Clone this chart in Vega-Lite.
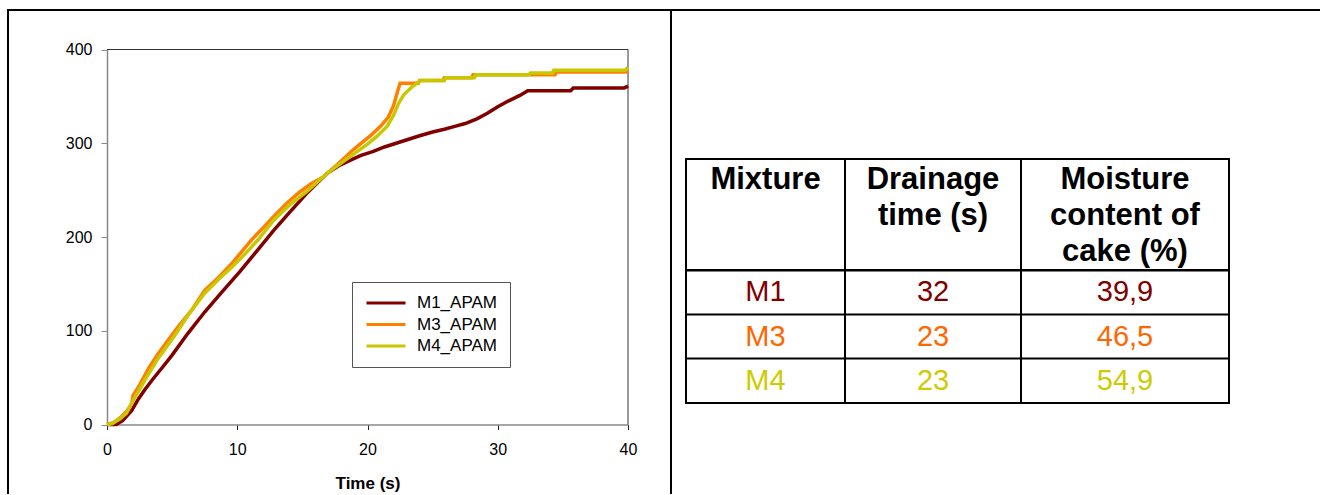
{
  "$schema": "https://vega.github.io/schema/vega-lite/v6.json",
  "background": "white",
  "padding": {"left": 7, "top": 9, "right": 0, "bottom": 0},
  "config": {
    "font": "Liberation Sans",
    "view": {"stroke": null},
    "concat": {"spacing": 0}
  },
  "datasets": {
    "curves": [
      {"series": "M1_APAM", "t": 0, "v": 0}, {"series": "M1_APAM", "t": 0.7, "v": 0}, {"series": "M1_APAM", "t": 1.2, "v": 4}, {"series": "M1_APAM", "t": 1.9, "v": 15}, {"series": "M1_APAM", "t": 2.4, "v": 27}, {"series": "M1_APAM", "t": 2.9, "v": 37}, {"series": "M1_APAM", "t": 3.5, "v": 48}, {"series": "M1_APAM", "t": 4.2, "v": 60}, {"series": "M1_APAM", "t": 5.0, "v": 74}, {"series": "M1_APAM", "t": 6.2, "v": 97}, {"series": "M1_APAM", "t": 7.5, "v": 120}, {"series": "M1_APAM", "t": 8.8, "v": 141}, {"series": "M1_APAM", "t": 10.2, "v": 163}, {"series": "M1_APAM", "t": 11.5, "v": 185}, {"series": "M1_APAM", "t": 12.8, "v": 207}, {"series": "M1_APAM", "t": 14.0, "v": 226}, {"series": "M1_APAM", "t": 15.3, "v": 246}, {"series": "M1_APAM", "t": 16.1, "v": 257}, {"series": "M1_APAM", "t": 16.9, "v": 268}, {"series": "M1_APAM", "t": 17.8, "v": 276}, {"series": "M1_APAM", "t": 18.7, "v": 282}, {"series": "M1_APAM", "t": 19.5, "v": 287}, {"series": "M1_APAM", "t": 20.4, "v": 291}, {"series": "M1_APAM", "t": 21.3, "v": 296}, {"series": "M1_APAM", "t": 22.2, "v": 300}, {"series": "M1_APAM", "t": 23.1, "v": 304}, {"series": "M1_APAM", "t": 24.0, "v": 308}, {"series": "M1_APAM", "t": 25.0, "v": 312}, {"series": "M1_APAM", "t": 25.9, "v": 315}, {"series": "M1_APAM", "t": 26.7, "v": 318}, {"series": "M1_APAM", "t": 27.5, "v": 321}, {"series": "M1_APAM", "t": 28.4, "v": 326}, {"series": "M1_APAM", "t": 29.2, "v": 332}, {"series": "M1_APAM", "t": 30.0, "v": 339}, {"series": "M1_APAM", "t": 30.8, "v": 345}, {"series": "M1_APAM", "t": 31.7, "v": 351}, {"series": "M1_APAM", "t": 32.3, "v": 356}, {"series": "M1_APAM", "t": 35.6, "v": 356}, {"series": "M1_APAM", "t": 35.8, "v": 359}, {"series": "M1_APAM", "t": 39.7, "v": 359}, {"series": "M1_APAM", "t": 40, "v": 361},
      {"series": "M3_APAM", "t": 0, "v": 0}, {"series": "M3_APAM", "t": 0.5, "v": 2}, {"series": "M3_APAM", "t": 1.0, "v": 7}, {"series": "M3_APAM", "t": 1.5, "v": 14}, {"series": "M3_APAM", "t": 1.9, "v": 22}, {"series": "M3_APAM", "t": 2.0, "v": 31}, {"series": "M3_APAM", "t": 2.5, "v": 42}, {"series": "M3_APAM", "t": 3.2, "v": 60}, {"series": "M3_APAM", "t": 3.9, "v": 75}, {"series": "M3_APAM", "t": 4.7, "v": 90}, {"series": "M3_APAM", "t": 5.5, "v": 105}, {"series": "M3_APAM", "t": 6.5, "v": 122}, {"series": "M3_APAM", "t": 7.5, "v": 143}, {"series": "M3_APAM", "t": 8.5, "v": 156}, {"series": "M3_APAM", "t": 9.6, "v": 172}, {"series": "M3_APAM", "t": 10.2, "v": 182}, {"series": "M3_APAM", "t": 11.1, "v": 197}, {"series": "M3_APAM", "t": 12.0, "v": 210}, {"series": "M3_APAM", "t": 12.8, "v": 222}, {"series": "M3_APAM", "t": 13.8, "v": 236}, {"series": "M3_APAM", "t": 14.8, "v": 248}, {"series": "M3_APAM", "t": 15.7, "v": 257}, {"series": "M3_APAM", "t": 16.6, "v": 264}, {"series": "M3_APAM", "t": 17.5, "v": 275}, {"series": "M3_APAM", "t": 18.2, "v": 284}, {"series": "M3_APAM", "t": 18.9, "v": 293}, {"series": "M3_APAM", "t": 19.6, "v": 301}, {"series": "M3_APAM", "t": 20.3, "v": 309}, {"series": "M3_APAM", "t": 21.0, "v": 318}, {"series": "M3_APAM", "t": 21.6, "v": 328}, {"series": "M3_APAM", "t": 22.0, "v": 340}, {"series": "M3_APAM", "t": 22.3, "v": 355}, {"series": "M3_APAM", "t": 22.5, "v": 364}, {"series": "M3_APAM", "t": 23.9, "v": 364}, {"series": "M3_APAM", "t": 24.0, "v": 367}, {"series": "M3_APAM", "t": 25.8, "v": 367}, {"series": "M3_APAM", "t": 25.9, "v": 370}, {"series": "M3_APAM", "t": 28.0, "v": 370}, {"series": "M3_APAM", "t": 28.1, "v": 373}, {"series": "M3_APAM", "t": 34.4, "v": 373}, {"series": "M3_APAM", "t": 34.5, "v": 376}, {"series": "M3_APAM", "t": 40, "v": 376},
      {"series": "M4_APAM", "t": 0, "v": 0}, {"series": "M4_APAM", "t": 0.4, "v": 1}, {"series": "M4_APAM", "t": 1.0, "v": 6}, {"series": "M4_APAM", "t": 1.5, "v": 12}, {"series": "M4_APAM", "t": 1.9, "v": 23}, {"series": "M4_APAM", "t": 2.4, "v": 35}, {"series": "M4_APAM", "t": 2.9, "v": 47}, {"series": "M4_APAM", "t": 3.9, "v": 70}, {"series": "M4_APAM", "t": 5.2, "v": 95}, {"series": "M4_APAM", "t": 6.3, "v": 118}, {"series": "M4_APAM", "t": 7.5, "v": 140}, {"series": "M4_APAM", "t": 8.8, "v": 158}, {"series": "M4_APAM", "t": 9.6, "v": 168}, {"series": "M4_APAM", "t": 10.6, "v": 182}, {"series": "M4_APAM", "t": 11.6, "v": 197}, {"series": "M4_APAM", "t": 12.8, "v": 218}, {"series": "M4_APAM", "t": 14.0, "v": 234}, {"series": "M4_APAM", "t": 15.3, "v": 248}, {"series": "M4_APAM", "t": 16.1, "v": 258}, {"series": "M4_APAM", "t": 16.9, "v": 268}, {"series": "M4_APAM", "t": 17.6, "v": 275}, {"series": "M4_APAM", "t": 18.4, "v": 283}, {"series": "M4_APAM", "t": 19.2, "v": 291}, {"series": "M4_APAM", "t": 19.9, "v": 298}, {"series": "M4_APAM", "t": 20.7, "v": 307}, {"series": "M4_APAM", "t": 21.5, "v": 318}, {"series": "M4_APAM", "t": 22.0, "v": 330}, {"series": "M4_APAM", "t": 22.4, "v": 343}, {"series": "M4_APAM", "t": 22.8, "v": 352}, {"series": "M4_APAM", "t": 23.4, "v": 360}, {"series": "M4_APAM", "t": 24.1, "v": 367}, {"series": "M4_APAM", "t": 25.9, "v": 367}, {"series": "M4_APAM", "t": 26.0, "v": 370}, {"series": "M4_APAM", "t": 28.2, "v": 370}, {"series": "M4_APAM", "t": 28.3, "v": 373}, {"series": "M4_APAM", "t": 32.4, "v": 373}, {"series": "M4_APAM", "t": 32.5, "v": 375}, {"series": "M4_APAM", "t": 34.2, "v": 375}, {"series": "M4_APAM", "t": 34.3, "v": 378}, {"series": "M4_APAM", "t": 39.8, "v": 378}, {"series": "M4_APAM", "t": 40, "v": 381}
    ],
    "header": [
      {"col": "c1", "label": "Mixture"},
      {"col": "c2", "label": "Drainage\ntime (s)"},
      {"col": "c3", "label": "Moisture\ncontent of\ncake (%)"}
    ],
    "table": [
      {"Mixture": "M1", "Drainage": "32", "Moisture": "39,9"},
      {"Mixture": "M3", "Drainage": "23", "Moisture": "46,5"},
      {"Mixture": "M4", "Drainage": "23", "Moisture": "54,9"}
    ]
  },
  "spacing": 0,
  "bounds": "flush",
  "resolve": {"scale": {"color": "independent"}, "legend": {"color": "independent"}},
  "hconcat": [
    {
      "width": 663,
      "height": 484,
      "view": {"stroke": "black", "strokeWidth": 2, "strokeDash": [1147, 663, 484]},
      "layer": [
        {
          "data": {"values": [{}]},
          "mark": {"type": "rule", "color": "#333333", "strokeWidth": 1},
          "encoding": {
            "x": {"datum": 0, "type": "quantitative"},
            "x2": {"datum": 40},
            "y": {"datum": 400, "type": "quantitative"}
          }
        },
        {
          "data": {"values": [{}]},
          "mark": {"type": "rule", "color": "#333333", "strokeWidth": 1},
          "encoding": {
            "x": {"datum": 40, "type": "quantitative"},
            "y": {"datum": 0, "type": "quantitative"},
            "y2": {"datum": 400}
          }
        },
        {
          "data": {"name": "curves"},
          "mark": {"type": "line", "strokeWidth": 3.5},
          "encoding": {
            "x": {
              "field": "t", "type": "quantitative",
              "scale": {"domain": [0, 40], "range": [99, 620], "nice": false, "zero": false},
              "axis": {
                "orient": "bottom", "offset": -69.5, "values": [0, 10, 20, 30, 40], "grid": false,
                "tickSize": 5, "tickColor": "#222222", "domainColor": "#888888", "domainWidth": 1.5,
                "labelFontSize": 16, "labelColor": "black", "labelPadding": 12, "labelFlush": false, "labelOverlap": false,
                "title": "Time (s)", "titleFontSize": 17, "titleFontWeight": "bold", "titleColor": "black", "titlePadding": 18
              }
            },
            "y": {
              "field": "v", "type": "quantitative",
              "scale": {"domain": [0, 400], "range": [414.5, 39.5], "nice": false},
              "axis": {
                "orient": "left", "offset": -99, "values": [0, 100, 200, 300, 400], "grid": false,
                "tickSize": 6, "tickColor": "#888888", "domainColor": "#888888", "domainWidth": 1.5,
                "labelFontSize": 16, "labelColor": "black", "labelPadding": 9, "title": null
              }
            },
            "color": {
              "field": "series", "type": "nominal",
              "scale": {"domain": ["M1_APAM", "M3_APAM", "M4_APAM"], "range": ["#800000", "#FF8000", "#C8C800"]},
              "legend": {
                "orient": "none", "legendX": 344, "legendY": 272, "title": null,
                "strokeColor": "#555555", "fillColor": "white", "padding": 13,
                "symbolType": "stroke", "symbolSize": 1521, "symbolStrokeWidth": 3, "clipHeight": 16,
                "rowPadding": 4.5, "labelFontSize": 17, "labelOffset": 10, "labelColor": "black"
              }
            }
          }
        }
      ]
    },
    {
      "spacing": 148,
      "bounds": "flush",
      "vconcat": [
        {
          "width": 649, "height": 1,
          "data": {"values": []},
          "mark": "text",
          "view": {"stroke": "black", "strokeWidth": 2, "strokeDash": [649, 2000]}
        },
        {
          "spacing": 0,
          "bounds": "flush",
          "hconcat": [
            {"width": 15, "height": 1, "data": {"values": []}, "mark": "text"},
            {
              "columns": 3,
              "spacing": 0,
              "bounds": "flush",
              "align": "each",
              "concat": [
                {
                  "width": 159, "height": 111,
                  "data": {"name": "header"},
                  "transform": [{"filter": "datum.col === 'c1'"}],
                  "view": {"stroke": "black", "strokeWidth": 2},
                  "mark": {"type": "text", "fontSize": 31, "fontWeight": "bold", "baseline": "top", "lineBreak": "\n", "lineHeight": 36, "color": "black"},
                  "encoding": {"text": {"field": "label", "type": "nominal"}, "y": {"value": 6}}
                },
                {
                  "width": 176, "height": 111,
                  "data": {"name": "header"},
                  "transform": [{"filter": "datum.col === 'c2'"}],
                  "view": {"stroke": "black", "strokeWidth": 2},
                  "mark": {"type": "text", "fontSize": 31, "fontWeight": "bold", "baseline": "top", "lineBreak": "\n", "lineHeight": 36, "color": "black"},
                  "encoding": {"text": {"field": "label", "type": "nominal"}, "y": {"value": 6}}
                },
                {
                  "width": 208, "height": 111,
                  "data": {"name": "header"},
                  "transform": [{"filter": "datum.col === 'c3'"}],
                  "view": {"stroke": "black", "strokeWidth": 2},
                  "mark": {"type": "text", "fontSize": 31, "fontWeight": "bold", "baseline": "top", "lineBreak": "\n", "lineHeight": 36, "color": "black"},
                  "encoding": {"text": {"field": "label", "type": "nominal"}, "y": {"value": 6}}
                },
                {
                  "width": 159, "height": 133,
                  "data": {"name": "table"},
                  "view": {"stroke": "black", "strokeWidth": 2},
                  "mark": {"type": "text", "fontSize": 29, "baseline": "middle"},
                  "encoding": {
                    "y": {"field": "Mixture", "type": "nominal", "scale": {"type": "band", "paddingInner": 0, "paddingOuter": 0},
                          "axis": {"grid": true, "gridColor": "black", "gridWidth": 2, "bandPosition": 0, "labels": false, "ticks": false, "domain": false, "title": null}},
                    "text": {"field": "Mixture", "type": "nominal"},
                    "color": {"field": "Mixture", "type": "nominal", "scale": {"domain": ["M1", "M3", "M4"], "range": ["#800000", "#FF6600", "#CCCC00"]}, "legend": null}
                  }
                },
                {
                  "width": 176, "height": 133,
                  "data": {"name": "table"},
                  "view": {"stroke": "black", "strokeWidth": 2},
                  "mark": {"type": "text", "fontSize": 29, "baseline": "middle"},
                  "encoding": {
                    "y": {"field": "Mixture", "type": "nominal", "scale": {"type": "band", "paddingInner": 0, "paddingOuter": 0},
                          "axis": {"grid": true, "gridColor": "black", "gridWidth": 2, "bandPosition": 0, "labels": false, "ticks": false, "domain": false, "title": null}},
                    "text": {"field": "Drainage", "type": "nominal"},
                    "color": {"field": "Mixture", "type": "nominal", "scale": {"domain": ["M1", "M3", "M4"], "range": ["#800000", "#FF6600", "#CCCC00"]}, "legend": null}
                  }
                },
                {
                  "width": 208, "height": 133,
                  "data": {"name": "table"},
                  "view": {"stroke": "black", "strokeWidth": 2},
                  "mark": {"type": "text", "fontSize": 29, "baseline": "middle"},
                  "encoding": {
                    "y": {"field": "Mixture", "type": "nominal", "scale": {"type": "band", "paddingInner": 0, "paddingOuter": 0},
                          "axis": {"grid": true, "gridColor": "black", "gridWidth": 2, "bandPosition": 0, "labels": false, "ticks": false, "domain": false, "title": null}},
                    "text": {"field": "Moisture", "type": "nominal"},
                    "color": {"field": "Mixture", "type": "nominal", "scale": {"domain": ["M1", "M3", "M4"], "range": ["#800000", "#FF6600", "#CCCC00"]}, "legend": null}
                  }
                }
              ]
            }
          ]
        }
      ]
    }
  ]
}
